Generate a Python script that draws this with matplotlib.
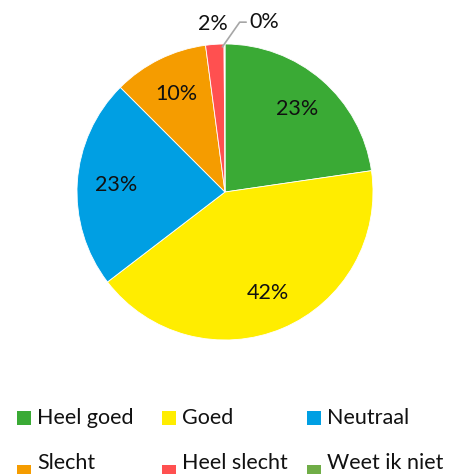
import matplotlib
matplotlib.use("Agg")
import matplotlib.pyplot as plt
from matplotlib.patches import Rectangle
import numpy as np

categories = ["Heel goed", "Goed", "Neutraal", "Slecht", "Heel slecht", "Weet ik niet"]
values = [22.7, 41.9, 22.9, 10.4, 2.0, 0.1]
colors = ["#3AAA35", "#FFED00", "#009FE3", "#F59C00", "#FF5050", "#70AD47"]

plt.rcParams['font.family'] = ['Lato', 'DejaVu Sans']

W, H = 449, 474
fig = plt.figure(figsize=(W / 100, H / 100), dpi=100)
cx, cy, R = 225, 192, 148
ax = fig.add_axes([(cx - R) / W, (H - cy - R) / H, 2 * R / W, 2 * R / H])

wedges, texts, autotexts = ax.pie(
    values, colors=colors, startangle=90, counterclock=False,
    autopct='%.0f%%', pctdistance=0.74,
    wedgeprops=dict(edgecolor='white', linewidth=0.6),
    textprops=dict(fontsize=15.5, color='#111111'))
ax.set_xlim(-1, 1)
ax.set_ylim(-1, 1)
ax.set_aspect('equal')
ax.axis('off')

def mid_angle(w):
    return np.deg2rad((w.theta1 + w.theta2) / 2)

a = mid_angle(wedges[4])
autotexts[4].set_position((1.16 * np.cos(a), 1.14 * np.sin(a)))

a = mid_angle(wedges[5])
x0, y0 = 0.98 * np.cos(a), 0.98 * np.sin(a)
autotexts[5].set_visible(False)
ax.annotate(autotexts[5].get_text(), xy=(x0 - 0.015, y0), xytext=(x0 + 0.165, y0 + 0.1),
            fontsize=15.5, color='#111111', ha='left', va='bottom',
            arrowprops=dict(arrowstyle='-', color='#a6a6a6', lw=1.2,
                            connectionstyle='angle,angleA=0,angleB=55,rad=0',
                            shrinkA=0, shrinkB=0),
            annotation_clip=False)

col_x = [17, 162, 307]
row_y = [418, 463]
sq = 14
for i, (lab, col) in enumerate(zip(categories, colors)):
    r, c = divmod(i, 3)
    x = col_x[c]
    y = row_y[r]
    sq_top = y - 7 if r == 0 else 465
    fig.patches.append(Rectangle((x / W, 1 - (sq_top + sq) / H), sq / W, sq / H,
                                 transform=fig.transFigure, facecolor=col, edgecolor='none'))
    fig.text((x + 20) / W, 1 - y / H, lab, fontsize=15.5, color='#111111',
             ha='left', va='center')

fig.savefig("out.png", dpi=100)
